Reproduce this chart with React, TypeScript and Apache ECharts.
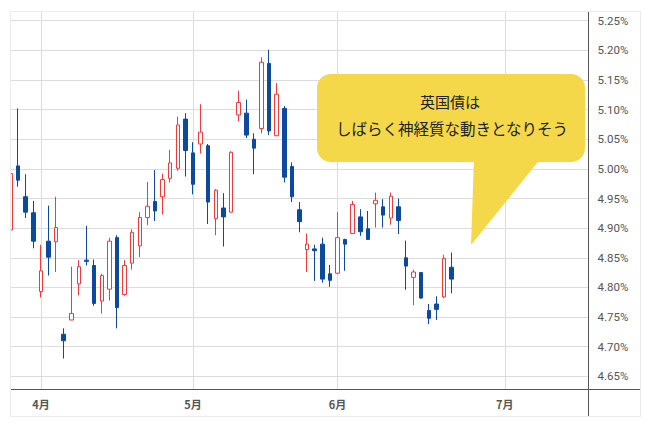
import React, { useEffect, useRef } from "react";
import * as echarts from "echarts";

const dates = [
  "2023-03-28", "2023-03-29", "2023-03-30", "2023-03-31",
  "2023-04-03", "2023-04-04", "2023-04-05", "2023-04-06", "2023-04-07",
  "2023-04-10", "2023-04-11", "2023-04-12", "2023-04-13", "2023-04-14",
  "2023-04-17", "2023-04-18", "2023-04-19", "2023-04-20", "2023-04-21",
  "2023-04-24", "2023-04-25", "2023-04-26", "2023-04-27", "2023-04-28",
  "2023-05-02", "2023-05-03", "2023-05-04", "2023-05-05",
  "2023-05-09", "2023-05-10", "2023-05-11", "2023-05-12",
  "2023-05-15", "2023-05-16", "2023-05-17", "2023-05-18", "2023-05-19",
  "2023-05-22", "2023-05-23", "2023-05-24", "2023-05-25",
  "2023-05-30", "2023-05-31",
  "2023-06-01", "2023-06-02",
  "2023-06-05", "2023-06-06", "2023-06-07", "2023-06-08", "2023-06-09",
  "2023-06-12", "2023-06-13", "2023-06-14", "2023-06-15", "2023-06-16",
  "2023-06-19", "2023-06-20", "2023-06-21", "2023-06-22", "2023-06-23",
  "2023-06-26", "2023-06-27", "2023-06-28", "2023-06-29", "2023-06-30",
  "2023-07-03", "2023-07-04", "2023-07-05", "2023-07-06", "2023-07-07",
  "2023-07-10", "2023-07-11", "2023-07-12", "2023-07-13", "2023-07-14",
  "2023-07-17", "2023-07-18",
];

const openVals = [
  4.897, 5.005, 4.953, 4.926, 4.793, 4.878, 4.877, 4.721, 4.745, 4.806,
  4.846, 4.837, 4.777, 4.797, 4.884, 4.788, 4.841, 4.870, 4.918, 4.945,
  4.953, 4.984, 5.001, 5.084, 5.027, 5.042, 5.039, 4.916, 4.934, 4.927,
  5.091, 5.094, 5.050, 5.068, 5.178, 5.056, 5.102, 5.004, 4.931, 4.864,
  4.865, 4.873, 4.823, 4.824, 4.881, 4.891, 4.919, 4.899, 4.941, 4.936,
  4.917, 4.936, 4.850, 4.817, 4.825, 4.761, 4.772, 4.784, 4.834,
];
const closeVals = [
  4.992, 4.981, 4.927, 4.878, 4.828, 4.851, 4.901, 4.710, 4.756, 4.835,
  4.844, 4.773, 4.820, 4.878, 4.766, 4.837, 4.893, 4.918, 4.937, 4.929,
  4.982, 5.010, 5.074, 5.031, 4.974, 5.062, 4.944, 4.964, 4.919, 5.028,
  5.112, 5.057, 5.035, 5.180, 5.064, 5.126, 4.986, 4.953, 4.911, 4.873,
  4.862, 4.814, 4.812, 4.884, 4.873, 4.940, 4.894, 4.881, 4.947, 4.922,
  4.954, 4.913, 4.836, 4.826, 4.782, 4.748, 4.763, 4.849, 4.814,
];
const lowVals = [
  4.895, 4.970, 4.917, 4.866, 4.783, 4.820, 4.826, 4.680, 4.745, 4.787,
  4.837, 4.769, 4.756, 4.778, 4.731, 4.786, 4.830, 4.851, 4.905, 4.912,
  4.923, 4.977, 4.997, 4.987, 4.957, 5.026, 4.907, 4.888, 4.869, 4.926,
  5.080, 5.052, 4.991, 5.060, 5.057, 5.055, 4.977, 4.944, 4.893, 4.826,
  4.811, 4.808, 4.801, 4.823, 4.828, 4.890, 4.887, 4.880, 4.901, 4.901,
  4.906, 4.890, 4.796, 4.770, 4.781, 4.738, 4.745, 4.782, 4.790,
];
const highVals = [
  4.995, 5.102, 4.991, 4.946, 4.872, 4.938, 4.953, 4.731, 4.835, 4.846,
  4.904, 4.847, 4.823, 4.884, 4.888, 4.846, 4.898, 4.927, 4.978, 4.998,
  4.992, 5.032, 5.088, 5.094, 5.045, 5.109, 5.042, 4.966, 4.959, 5.030,
  5.132, 5.117, 5.060, 5.188, 5.201, 5.145, 5.106, 5.011, 4.944, 4.891,
  4.872, 4.884, 4.838, 4.927, 4.882, 4.946, 4.932, 4.929, 4.960, 4.949,
  4.960, 4.950, 4.879, 4.830, 4.826, 4.772, 4.785, 4.855, 4.859,
];

const yTicks = [4.65, 4.7, 4.75, 4.8, 4.85, 4.9, 4.95, 5.0, 5.05, 5.1, 5.15, 5.2, 5.25];
const noteLines = ["英国債は", "しばらく神経質な動きとなりそう"];

const UP = "#F23A3A";
const DOWN = "#0C4A9E";

export default function App() {
  const ref = useRef<HTMLDivElement>(null);

  useEffect(() => {
    document.body.style.margin = "0";
    const chart = echarts.init(ref.current!, null, { renderer: "svg" });
    const data = openVals.map((o, i) => [o, closeVals[i], lowVals[i], highVals[i]]);
    const month = (s: string) => s.slice(5, 7);
    const isMonthStart = (i: number) => i > 0 && month(dates[i]) !== month(dates[i - 1]);

    chart.setOption({
      animation: false,
      grid: { left: 10.5, right: 57.5, top: 12, bottom: 38, containLabel: false },
      xAxis: {
        type: "category",
        data: dates,
        boundaryGap: false,
        axisLine: { show: true, lineStyle: { color: "#555", width: 1 } },
        axisTick: { show: false },
        axisLabel: {
          interval: (i: number) => isMonthStart(i),
          formatter: (v: string) => `${parseInt(month(v), 10)}月`,
          margin: 9,
          fontSize: 11,
          fontWeight: "bold",
          color: "#555",
          fontFamily: "'Noto Sans CJK JP', sans-serif",
        },
        splitLine: {
          show: true,
          interval: (i: number) => isMonthStart(i),
          lineStyle: { color: "#dcdcdc", width: 1 },
        },
      },
      yAxis: {
        type: "value",
        position: "right",
        min: 4.6286,
        max: 5.2647,
        scale: true,
        axisLine: { show: true, lineStyle: { color: "#555", width: 1 } },
        axisTick: { show: false, customValues: yTicks },
        axisLabel: {
          customValues: yTicks,
          formatter: (v: number) => v.toFixed(2) + "%",
          margin: 9,
          fontSize: 11.5,
          color: "#555",
          fontFamily: "Roboto, sans-serif",
        },
        splitLine: { show: true, lineStyle: { color: "#dcdcdc", width: 1 } },
      },
      series: [
        {
          type: "candlestick",
          data,
          barWidth: 4,
          clip: true,
          itemStyle: {
            color: "#ffffff",
            borderColor: UP,
            color0: DOWN,
            borderColor0: DOWN,
            borderWidth: 1,
          },
        },
      ],
      graphic: [
        {
          type: "rect",
          z: 50,
          silent: true,
          shape: { x: 0, y: 0, width: 10.5, height: 427 },
          style: { fill: "#ffffff" },
        },
        {
          type: "rect",
          z: 51,
          silent: true,
          shape: { x: 10.5, y: 11.5, width: 630, height: 405 },
          style: { fill: "none", stroke: "#ebebeb", lineWidth: 1 },
        },
        {
          type: "line",
          z: 1,
          silent: true,
          shape: { x1: 588, y1: 389.5, x2: 641, y2: 389.5 },
          style: { stroke: "#555", lineWidth: 1 },
        },
        {
          type: "line",
          z: 1,
          silent: true,
          shape: { x1: 588.5, y1: 389, x2: 588.5, y2: 416.5 },
          style: { stroke: "#555", lineWidth: 1 },
        },
        {
          type: "rect",
          z: 100,
          silent: true,
          shape: { x: 317, y: 74, width: 268, height: 88, r: 14 },
          style: { fill: "#F5D74A" },
        },
        {
          type: "polygon",
          z: 100,
          silent: true,
          shape: { points: [[474, 158], [541, 158], [471, 245]] },
          style: { fill: "#F5D74A" },
        },
        {
          type: "text",
          z: 101,
          silent: true,
          style: {
            text: noteLines[0],
            x: 450,
            y: 101,
            textAlign: "center",
            textVerticalAlign: "middle",
            fontSize: 15,
            fontFamily: "'Noto Sans CJK JP', sans-serif",
            fill: "#222",
          },
        },
        {
          type: "text",
          z: 101,
          silent: true,
          style: {
            text: noteLines[1],
            x: 452,
            y: 128,
            textAlign: "center",
            textVerticalAlign: "middle",
            fontSize: 15.5,
            fontFamily: "'Noto Sans CJK JP', sans-serif",
            fill: "#222",
          },
        },
      ],
    });

    return () => chart.dispose();
  }, []);

  return <div ref={ref} style={{ width: 646, height: 427 }} />;
}
